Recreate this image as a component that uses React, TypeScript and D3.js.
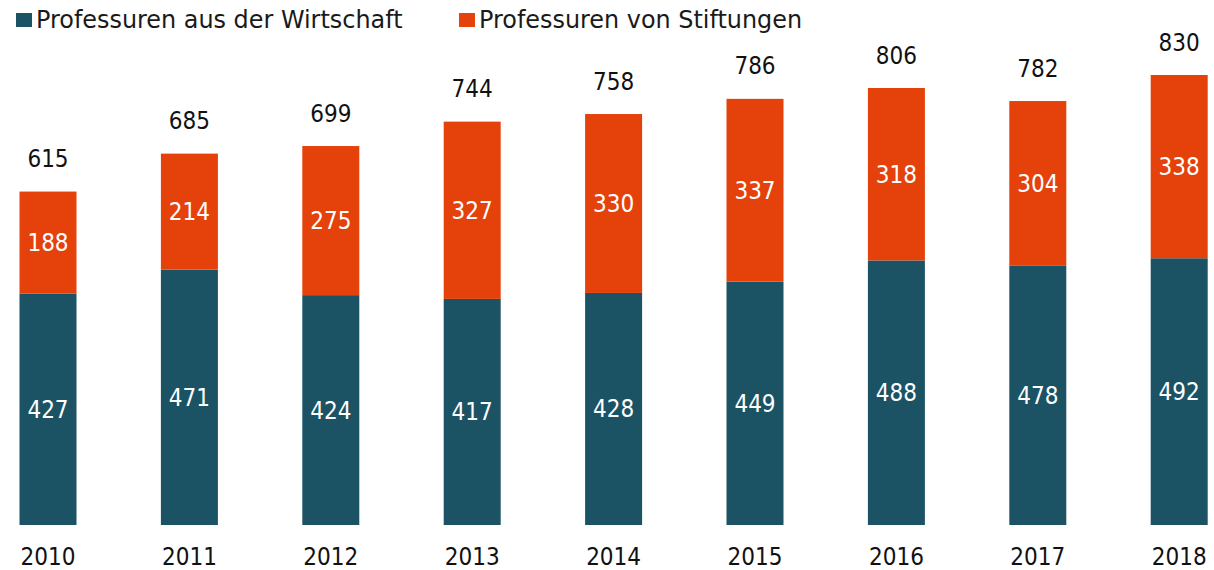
import React from "react";
import * as d3 from "d3";

const years = ["2010", "2011", "2012", "2013", "2014", "2015", "2016", "2017", "2018"];
const wirtschaft = [427, 471, 424, 417, 428, 449, 488, 478, 492];
const stiftungen = [188, 214, 275, 327, 330, 337, 318, 304, 338];
const totals = [615, 685, 699, 744, 758, 786, 806, 782, 830];
const seriesNames = ["Professuren aus der Wirtschaft", "Professuren von Stiftungen"];
const colors = ["#1B5365", "#E5420B"];

const W = 1214;
const H = 570;
const FONT = "'DejaVu Sans Condensed', 'DejaVu Sans', sans-serif";
const LFONT = "'DejaVu Sans', sans-serif";

export default function App() {
  const x = d3.scalePoint<string>().domain(years).range([48, 1179.2]);
  const y = d3.scaleLinear().domain([0, 830]).range([525, 75]);
  const bw = 57;
  const legendX = [16, 459];

  return (
    <svg width={W} height={H} style={{ position: "absolute", left: 0, top: 0 }} fontFamily={FONT}>
      {seriesNames.map((n, i) => (
        <g key={n} transform={`translate(${legendX[i]},0)`}>
          <rect x={0} y={13} width={16} height={14} fill={colors[i]} />
          <text x={20} y={28.3} fontSize={23.9} fontFamily={LFONT} fill="#1a1a1a">{n}</text>
        </g>
      ))}
      {years.map((yr, i) => {
        const c = x(yr)!;
        const y0 = y(0);
        const y1 = y(wirtschaft[i]);
        const y2 = y(wirtschaft[i] + stiftungen[i]);
        return (
          <g key={yr}>
            <rect x={c - bw / 2} y={y1} width={bw} height={y0 - y1} fill={colors[0]} />
            <rect x={c - bw / 2} y={y2} width={bw} height={y1 - y2} fill={colors[1]} />
            <text x={c} y={(y0 + y1) / 2 + 8.5} textAnchor="middle" fontSize={24} fill="#fff">{wirtschaft[i]}</text>
            <text x={c} y={(y1 + y2) / 2 + 8.5} textAnchor="middle" fontSize={24} fill="#fff">{stiftungen[i]}</text>
            <text x={c} y={y(totals[i]) - 24.5} textAnchor="middle" fontSize={24} fill="#111">{totals[i]}</text>
            <text x={c} y={565} textAnchor="middle" fontSize={24} fill="#111">{yr}</text>
          </g>
        );
      })}
    </svg>
  );
}
